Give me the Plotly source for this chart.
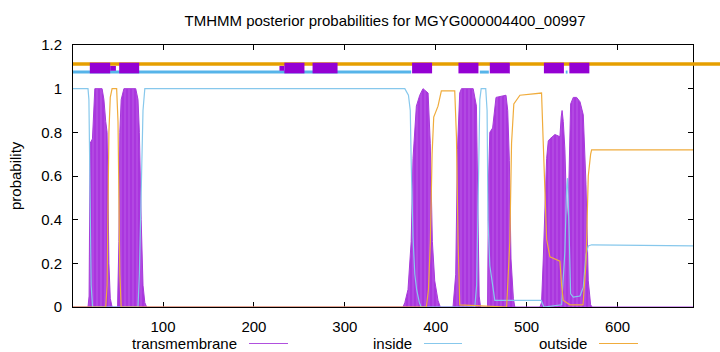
import plotly.graph_objects as go

# ---------------- data ----------------
title_text = "TMHMM posterior probabilities for MGYG000004400_00997"
seq_range = [1, 683]
x_ticks = [100, 200, 300, 400, 500, 600]
y_ticks = [0, 0.2, 0.4, 0.6, 0.8, 1.0, 1.2]
y_tick_text = ["0", "0.2", "0.4", "0.6", "0.8", "1", "1.2"]
legend_labels = ["transmembrane", "inside", "outside"]

tm_pos = [1, 17.5, 18.7, 19.3, 19.8, 22.4, 23.5, 25, 33, 35, 37, 38.5, 39.5, 40.5, 42, 44,
          50, 51.5, 52.5, 54, 57, 70, 72.5, 74, 76, 78, 80, 82,
          364, 366, 369.5, 373, 375, 378.7, 382.4, 386, 391.6, 394, 396.3, 398.9, 402.5, 405,
          419, 422, 423.9, 426.4, 428.3, 441.2, 444.8, 446.7, 447.8, 449.3,
          457, 458.2, 459.5, 462.6, 466.3, 477.3, 479.2, 481, 482.8, 485.4, 487,
          514.6, 516.4, 518.3, 520.1, 522, 523.8, 525.6, 531.1, 536.6, 538, 539, 540.3,
          542.1, 544, 545.1, 546.6, 548.4, 551.3, 555, 558.7, 562.3, 565.3, 567.8, 570.4, 572, 683]
tm_val = [0, 0, 0.05, 0.34, 0.75, 0.77, 0.9, 1.0, 1.0, 0.95, 0.85, 0.8, 0.55, 0.2, 0.04, 0,
          0, 0.3, 0.8, 0.95, 1.0, 1.0, 0.95, 0.8, 0.4, 0.1, 0.02, 0,
          0, 0.02, 0.08, 0.3, 0.68, 0.92, 0.97, 1.0, 0.98, 0.75, 0.3, 0.12, 0.03, 0,
          0, 0.15, 0.72, 0.98, 1.0, 1.0, 0.92, 0.45, 0.05, 0,
          0, 0.6, 0.8, 0.82, 0.96, 0.97, 0.9, 0.67, 0.22, 0.04, 0,
          0, 0.02, 0.22, 0.46, 0.68, 0.76, 0.77, 0.79, 0.78, 0.87, 0.9, 0.85,
          0.72, 0.44, 0.4, 0.6, 0.93, 0.96, 0.96, 0.94, 0.88, 0.56, 0.12, 0.01, 0, 0]

inside_pos = [1, 17.5, 18.5, 19, 20, 21, 22.5, 72.5, 74, 76, 78, 80,
              366, 370, 372, 373, 375, 377, 379, 382, 384,
              443, 445, 446.7, 448.5, 450, 455, 456.5, 457.5, 459.5, 463, 465,
              516, 519, 538.5, 542, 544, 545, 546.5, 548.4, 551.3, 558.7, 562.3, 565.3,
              567.8, 571.5, 683]
inside_val = [1.0, 1.0, 0.95, 0.75, 0.3, 0.1, 0.0, 0.0, 0.15, 0.6, 0.9, 1.0,
              1.0, 0.97, 0.9, 0.67, 0.32, 0.15, 0.08, 0.02, 0.0,
              0.0, 0.1, 0.5, 0.95, 1.0, 1.0, 0.9, 0.4, 0.19, 0.1, 0.03,
              0.03, 0.0, 0.01, 0.25, 0.55, 0.59, 0.38, 0.06, 0.045, 0.05, 0.09, 0.24,
              0.28, 0.285, 0.28]

outside_pos = [1, 37, 38.5, 39.5, 40.5, 42, 44, 49, 50.5, 51.5, 52.5, 54,
               389.7, 392, 394.1, 396, 397.8, 402.5, 406.2, 420.9, 422.8, 424.6, 426.4,
               478, 481.5, 483.4, 485.9, 492.6, 516.4, 518.2, 522, 525.6, 536.6, 538.5,
               540.3, 547.7, 562, 565.3, 567.8, 570.4, 571.5, 683]
outside_val = [0, 0, 0.1, 0.4, 0.8, 0.96, 1.0, 1.0, 0.85, 0.5, 0.15, 0.0,
               0.0, 0.08, 0.3, 0.7, 0.87, 0.92, 0.99, 0.99, 0.78, 0.3, 0.01,
               0.0, 0.3, 0.75, 0.93, 0.97, 0.98, 0.76, 0.31, 0.23, 0.21, 0.1,
               0.03, 0.01, 0.01, 0.2, 0.6, 0.7, 0.72, 0.72]

# predicted topology bars at the top (residue spans)
tm_seg_start = [19.5, 51.8, 233.5, 264.5, 374, 425, 459.5, 519, 547]
tm_seg_end = [41.9, 73.8, 255.6, 292, 396, 447, 481.5, 541, 569]
tm_notch_start = [41.9, 228.1]
tm_notch_end = [48.2, 233.5]
inside_seg_start = [1, 448.5, 543]
inside_seg_end = [373, 458.4, 545]

# ---------------- styles ----------------
C_TM_FILL = "rgb(178,72,226)"
C_TM_STRIPE = "rgb(148,0,211)"
C_TM_LINE = "rgb(166,58,218)"
C_TM_KEY = "rgb(176,80,222)"
C_IN = "#87c8ec"
C_OUT = "#f0ac3c"
C_IN_BAR = "#56b4e9"
C_OUT_BAR = "#e69f00"
C_TM_BAR = "#9400d3"
FONT = "Liberation Sans, Arial, sans-serif"

# plot area in pixels
L, R, T, B = 73, 693, 45, 307
W, H = 720, 352


def px_x(p):
    return (p - L) / (R - L)


def px_y(p):
    return (B - p) / (B - T)


fig = go.Figure()
fig.add_trace(go.Scatter(x=tm_pos, y=tm_val, mode="lines", fill="tozeroy",
                         fillcolor=C_TM_FILL,
                         fillpattern=dict(shape="|", fgcolor=C_TM_STRIPE, bgcolor=C_TM_FILL,
                                          size=4, solidity=0.25),
                         line=dict(color=C_TM_LINE, width=1),
                         showlegend=False, hoverinfo="skip"))
fig.add_trace(go.Scatter(x=inside_pos, y=inside_val, mode="lines",
                         line=dict(color=C_IN, width=1.2), showlegend=False))
fig.add_trace(go.Scatter(x=outside_pos, y=outside_val, mode="lines",
                         line=dict(color=C_OUT, width=1.2), showlegend=False))

shapes = []
# outside bar across the whole top (extends past the frame)
shapes.append(dict(type="line", xref="paper", yref="y", x0=0, x1=px_x(W), y0=1.1135, y1=1.1135,
                   line=dict(color=C_OUT_BAR, width=3.5), layer="above"))
for s, e in zip(inside_seg_start, inside_seg_end):
    shapes.append(dict(type="line", xref="x", yref="y", x0=s, x1=e, y0=1.076, y1=1.076,
                       line=dict(color=C_IN_BAR, width=3), layer="above"))
for s, e in zip(tm_seg_start, tm_seg_end):
    shapes.append(dict(type="rect", xref="x", yref="y", x0=s, x1=e, y0=1.07, y1=1.119,
                       fillcolor=C_TM_BAR, line=dict(width=0), layer="above"))
for s, e in zip(tm_notch_start, tm_notch_end):
    shapes.append(dict(type="rect", xref="x", yref="y", x0=s, x1=e, y0=1.082, y1=1.104,
                       fillcolor=C_TM_BAR, line=dict(width=0), layer="above"))

# manual gnuplot-style key: text then line sample
legend_text_right = [239, 414, 589]
legend_line_x = [(249, 288), (424, 462), (599, 638)]
legend_colors = [C_TM_KEY, C_IN, C_OUT]
legend_y = 343
annotations = []
for lab, tx, (lx0, lx1), col in zip(legend_labels, legend_text_right, legend_line_x, legend_colors):
    annotations.append(dict(text=lab, xref="paper", yref="paper", x=px_x(tx), y=px_y(legend_y),
                            xanchor="right", yanchor="middle", showarrow=False,
                            font=dict(family=FONT, size=15, color="black")))
    shapes.append(dict(type="line", xref="paper", yref="paper", x0=px_x(lx0), x1=px_x(lx1),
                       y0=px_y(legend_y + 0.5), y1=px_y(legend_y + 0.5),
                       line=dict(color=col, width=1)))

annotations.append(dict(text="probability", xref="paper", yref="paper", x=px_x(15), y=px_y(176),
                        xanchor="center", yanchor="middle", textangle=-90, showarrow=False,
                        font=dict(family=FONT, size=15, color="black")))

axis_common = dict(showline=True, linecolor="black", linewidth=1, mirror="ticks",
                   ticks="inside", ticklen=5, tickcolor="black", showgrid=False,
                   zeroline=False, layer="below traces",
                   tickfont=dict(family=FONT, size=15, color="black"))

fig.update_layout(
    width=W, height=H,
    margin=dict(l=L, r=W - R, t=T, b=H - B, pad=0),
    paper_bgcolor="white", plot_bgcolor="white",
    title=dict(text=title_text, x=px_x(385), xref="paper", xanchor="center",
               y=1 - 21 / H, yref="container", yanchor="middle",
               font=dict(family=FONT, size=15, color="black")),
    xaxis=dict(range=seq_range, tickvals=x_ticks, ticklabelstandoff=6, **axis_common),
    yaxis=dict(range=[0, 1.2], tickvals=y_ticks, ticktext=y_tick_text,
               ticklabelstandoff=7, **axis_common),
    shapes=shapes, annotations=annotations, showlegend=False,
)

fig.write_html("out.html")
